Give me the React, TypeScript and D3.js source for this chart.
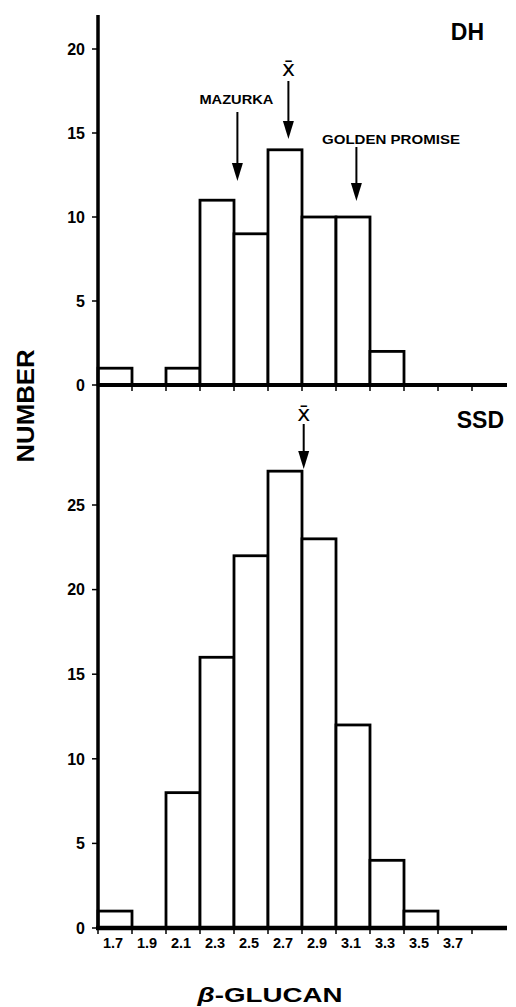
import React from "react";
import * as d3 from "d3";

// Bin centres (β-glucan) and counts
const binCenters = [1.7, 1.9, 2.1, 2.3, 2.5, 2.7, 2.9, 3.1, 3.3, 3.5, 3.7];
const dhCounts = [1, 0, 1, 11, 9, 14, 10, 10, 2, 0, 0];
const ssdCounts = [1, 0, 8, 16, 22, 27, 23, 12, 4, 1, 0];
const xTickLabels = ["1.7", "1.9", "2.1", "2.3", "2.5", "2.7", "2.9", "3.1", "3.3", "3.5", "3.7"];
const dhYTicks = [0, 5, 10, 15, 20];
const ssdYTicks = [0, 5, 10, 15, 20, 25];
const binWidth = 0.2;
const dhMean = 2.72;
const ssdMean = 2.81;
const mazurka = 2.42;
const goldenPromise = 3.12;

const FONT = "'Liberation Sans', Arial, Helvetica, sans-serif";

function Arrow({ x, y1, y2 }: { x: number; y1: number; y2: number }) {
  const hw = 5.5;
  const hl = 18;
  return (
    <g>
      <line x1={x} x2={x} y1={y1} y2={y2 - hl + 2} stroke="#000" strokeWidth={2} />
      <path d={`M${x - hw},${y2 - hl} L${x + hw},${y2 - hl} L${x},${y2} Z`} fill="#000" />
    </g>
  );
}

export default function App() {
  const W = 516;
  const H = 1007;
  const xs = d3.scaleLinear().domain([1.6, 4.0]).range([98, 506]);
  const yTop = d3.scaleLinear().domain([0, 20]).range([385, 49]);
  const yBot = d3.scaleLinear().domain([0, 25]).range([928, 505]);
  const edges = d3.range(0, binCenters.length + 1).map((i) => 1.6 + i * binWidth);

  const bars = (counts: number[], y: d3.ScaleLinear<number, number>) =>
    binCenters.map((c, i) =>
      counts[i] > 0 ? (
        <rect
          key={i}
          x={xs(c - binWidth / 2)}
          y={y(counts[i])}
          width={xs(c + binWidth / 2) - xs(c - binWidth / 2)}
          height={y(0) - y(counts[i])}
          fill="#fff"
          stroke="#000"
          strokeWidth={2.8}
        />
      ) : null
    );

  const yAxisTicks = (ticks: number[], y: d3.ScaleLinear<number, number>) =>
    ticks.map((t) => (
      <g key={t}>
        <line x1={92} x2={98} y1={y(t)} y2={y(t)} stroke="#000" strokeWidth={1.5} />
        <text
          x={85}
          y={y(t)}
          dy="0.36em"
          textAnchor="end"
          fontFamily={FONT}
          fontWeight="bold"
          fontSize={16}
        >
          {t}
        </text>
      </g>
    ));

  const xEdgeTicks = (y0: number) =>
    edges.slice(0, 12).map((e, i) => (
      <line key={i} x1={xs(e)} x2={xs(e)} y1={y0} y2={y0 + 6} stroke="#000" strokeWidth={1.5} />
    ));

  return (
    <svg
      width={W}
      height={H}
      style={{ position: "absolute", left: 0, top: 0, background: "#fff" }}
    >
      {/* Top panel (DH) */}
      {bars(dhCounts, yTop)}
      {xEdgeTicks(yTop(0))}
      <line x1={98} x2={507} y1={yTop(0)} y2={yTop(0)} stroke="#000" strokeWidth={4} />
      {yAxisTicks(dhYTicks, yTop)}

      {/* Bottom panel (SSD) */}
      {bars(ssdCounts, yBot)}
      {xEdgeTicks(yBot(0))}
      <line x1={96} x2={507} y1={yBot(0)} y2={yBot(0)} stroke="#000" strokeWidth={4.5} />
      {yAxisTicks(ssdYTicks, yBot)}

      {/* Shared vertical axis */}
      <line x1={98} x2={98} y1={15} y2={930} stroke="#000" strokeWidth={3.5} />

      {/* X tick labels */}
      {binCenters.map((c, i) => (
        <text
          key={i}
          x={xs(c) - 2}
          y={948}
          textAnchor="middle"
          fontFamily={FONT}
          fontWeight="bold"
          fontSize={14.5}
        >
          {xTickLabels[i]}
        </text>
      ))}

      {/* Panel labels */}
      <text x={484} y={40} textAnchor="end" fontFamily={FONT} fontWeight="bold" fontSize={23}>
        DH
      </text>
      <text x={504} y={428} textAnchor="end" fontFamily={FONT} fontWeight="bold" fontSize={23}>
        SSD
      </text>

      {/* Annotations top */}
      <text
        x={xs(mazurka) - 1}
        y={104}
        textAnchor="middle"
        fontFamily={FONT}
        fontWeight="bold"
        fontSize={12}
        textLength={74}
        lengthAdjust="spacingAndGlyphs"
      >
        MAZURKA
      </text>
      <Arrow x={xs(mazurka)} y1={112} y2={181} />

      <text
        x={xs(dhMean)}
        y={76}
        textAnchor="middle"
        fontFamily="'DejaVu Sans', sans-serif"
        fontSize={22}
      >
        x̄
      </text>
      <Arrow x={xs(dhMean)} y1={81} y2={139} />

      <text
        x={322}
        y={144}
        fontFamily={FONT}
        fontWeight="bold"
        fontSize={12}
        textLength={138}
        lengthAdjust="spacingAndGlyphs"
      >
        GOLDEN PROMISE
      </text>
      <Arrow x={xs(goldenPromise)} y1={147} y2={201} />

      {/* Annotation bottom */}
      <text
        x={xs(ssdMean)}
        y={421}
        textAnchor="middle"
        fontFamily="'DejaVu Sans', sans-serif"
        fontSize={22}
      >
        x̄
      </text>
      <Arrow x={xs(ssdMean)} y1={424} y2={469} />

      {/* Axis titles */}
      <text
        transform="translate(34,406) rotate(-90)"
        textAnchor="middle"
        fontFamily={FONT}
        fontWeight="bold"
        fontSize={24}
        textLength={113}
        lengthAdjust="spacingAndGlyphs"
      >
        NUMBER
      </text>
      <text
        x={270}
        y={1002}
        textAnchor="middle"
        fontFamily={FONT}
        fontWeight="bold"
        fontSize={21}
        textLength={145}
        lengthAdjust="spacingAndGlyphs"
      >
        <tspan fontStyle="italic">β</tspan>-GLUCAN
      </text>
    </svg>
  );
}
